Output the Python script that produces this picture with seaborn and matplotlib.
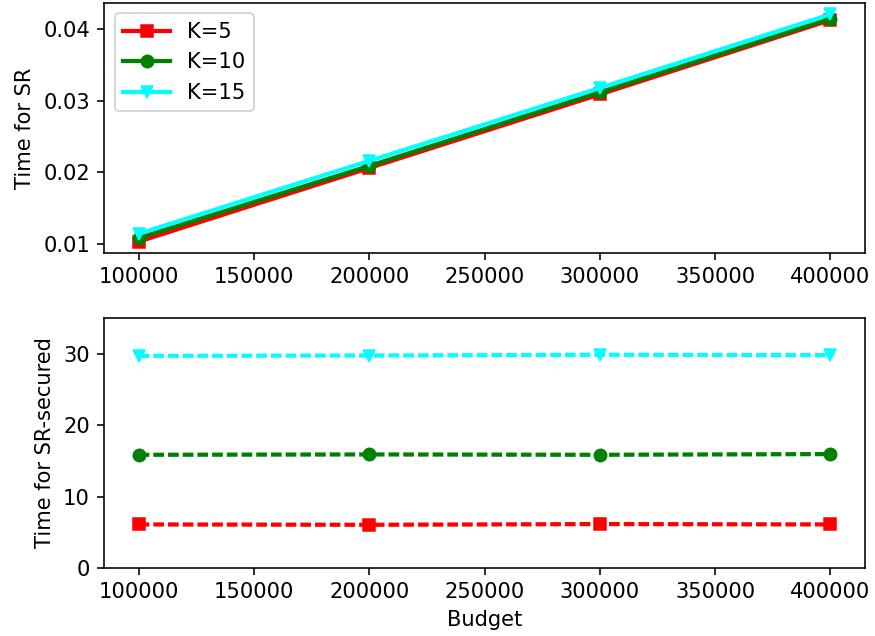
import matplotlib
matplotlib.use("Agg")
import matplotlib.pyplot as plt
import seaborn as sns
import pandas as pd

budget = [100000, 200000, 300000, 400000]
labels = ["K=5", "K=10", "K=15"]
sr_k5 = [0.0103, 0.0206, 0.0309, 0.0413]
sr_k10 = [0.0108, 0.0209, 0.0312, 0.0415]
sr_k15 = [0.0114, 0.0216, 0.0318, 0.0421]
sec_k5 = [6.1, 6.05, 6.15, 6.1]
sec_k10 = [15.85, 15.9, 15.85, 15.95]
sec_k15 = [29.7, 29.75, 29.85, 29.8]

colors = {"K=5": "red", "K=10": "green", "K=15": "cyan"}
markers = {"K=5": "s", "K=10": "o", "K=15": "v"}

def long(series):
    rows = []
    for lab, vals in zip(labels, series):
        for b, v in zip(budget, vals):
            rows.append({"Budget": b, "val": v, "K": lab})
    return pd.DataFrame(rows)

df_sr = long([sr_k5, sr_k10, sr_k15])
df_sec = long([sec_k5, sec_k10, sec_k15])

plt.rcParams["font.family"] = ["DejaVu Sans"]
plt.rcParams["font.size"] = 10.5

fig, (ax1, ax2) = plt.subplots(2, 1, figsize=(875/144, 636/144), dpi=144)
fig.subplots_adjust(left=0.1189, right=0.9886, top=0.9953, bottom=0.1069, hspace=0.26)

lw = 2.1
ms = 6.2

sns.lineplot(data=df_sr, x="Budget", y="val", hue="K", style="K", palette=colors,
             markers=markers, dashes=False, linewidth=lw, markersize=ms, ax=ax1)
ax1.set_ylabel("Time for SR")
ax1.set_xlabel("")
ax1.set_yticks([0.01, 0.02, 0.03, 0.04])
ax1.set_xticks([100000, 150000, 200000, 250000, 300000, 350000, 400000])
ax1.ticklabel_format(axis="x", style="plain")

sns.lineplot(data=df_sec, x="Budget", y="val", hue="K", style="K", palette=colors,
             markers=markers, dashes={k: (2.55, 0.95) for k in labels}, linewidth=lw,
             markersize=ms, ax=ax2, legend=False)
ax2.set_ylabel("Time for SR-secured")
ax2.set_xlabel("Budget")
ax2.set_ylim(0, 35)
ax2.set_yticks([0, 10, 20, 30])
ax2.set_xticks([100000, 150000, 200000, 250000, 300000, 350000, 400000])
ax2.ticklabel_format(axis="x", style="plain")

for ax in (ax1, ax2):
    for line in ax.lines:
        line.set_markeredgecolor(line.get_color())

h, l = ax1.get_legend_handles_labels()
for hh in h:
    hh.set_markeredgecolor(hh.get_color())
ax1.legend(h, l, loc="upper left", handlelength=2.25)

fig.savefig("out.png", dpi=144)
